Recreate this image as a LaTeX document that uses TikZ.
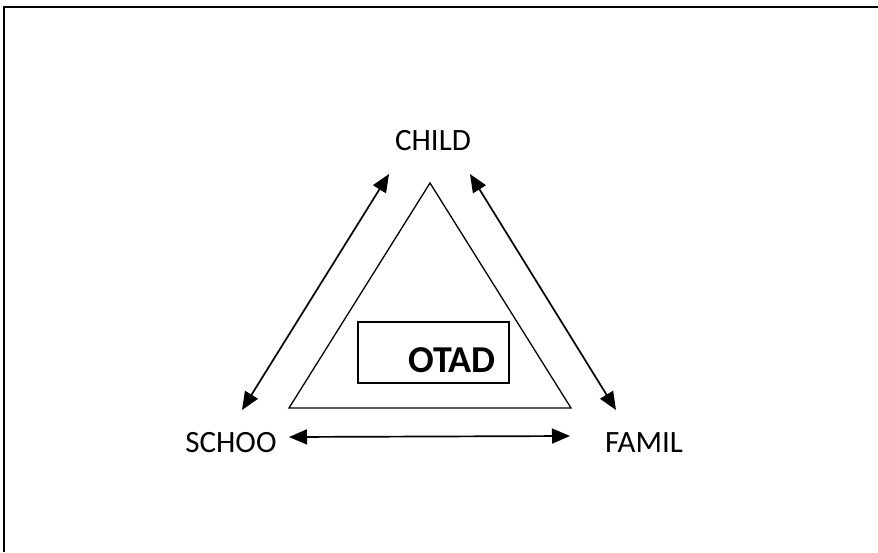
\documentclass[tikz,border=0pt]{standalone}
\usepackage{fontspec}
\setmainfont{Carlito}
\usetikzlibrary{arrows.meta}
\tikzset{
  label/.style={font=\fontsize{31}{34}\selectfont},
  link/.style={line width=1.7pt, {Triangle[length=18pt,width=15pt]}-{Triangle[length=18pt,width=15pt]}}
}
\begin{document}
\begin{tikzpicture}[x=1pt,y=-1pt]
            \useasboundingbox (0,0) rectangle (878,552);
            % Frame (only top and left edges show)
            \draw[line width=2pt] (4,552) -- (4,7) -- (878,7);
            % Three corner labels
            \node[label] (child) at (433,141) {CHILD};
            \node[label] (schoo) at (231,443) {SCHOO};
            \node[label] (famil) at (644,443) {FAMIL};
            % Inner triangle
            \coordinate (top) at (430,183);
            \coordinate (left) at (289,408);
            \coordinate (right) at (571,408);
            \draw[line width=1.3pt] (top) -- (left) -- (right) -- cycle;
            % Box with OTAD
            \node[draw, line width=1.3pt, minimum width=151pt, minimum height=61pt] (box) at (433.5,352.5) {};
            \node[font=\fontsize{38}{40}\selectfont\bfseries] (otad) at (452,360) {OTAD};
            % Arrow ends
            \coordinate (cl) at (389,174);
            \coordinate (sl) at (242,410);
            \coordinate (cr) at (470,174);
            \coordinate (fr) at (616,410);
            \coordinate (sh) at (289,437);
            \coordinate (fh) at (570,436);
            \draw[link] (cl) -- (sl);
            \draw[link] (cr) -- (fr);
            \draw[link] (sh) -- (fh);
        \end{tikzpicture}
\end{document}
